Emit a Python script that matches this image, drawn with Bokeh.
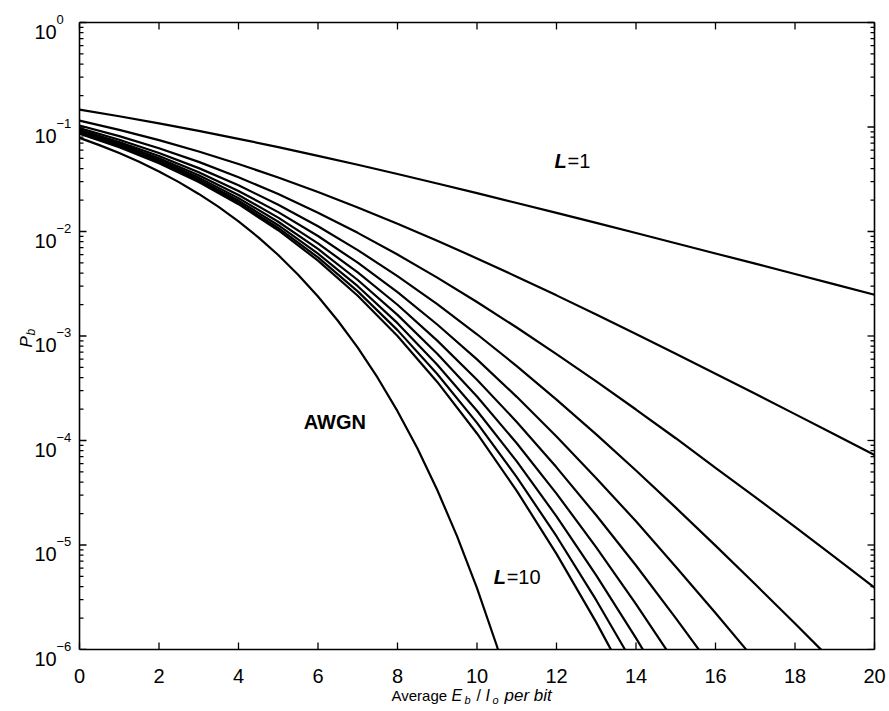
import math

from bokeh.embed import file_html
from bokeh.models import Label, Range1d
from bokeh.plotting import figure
from bokeh.resources import INLINE

# Average Eb/Io per bit (dB) at which the diversity curves are sampled
snr_db = list(range(21))

# BPSK over an AWGN channel (sampled every 0.5 dB)
snr_awgn_db = [0, 0.5, 1, 1.5, 2, 2.5, 3, 3.5, 4, 4.5, 5, 5.5, 6, 6.5, 7, 7.5,
               8, 8.5, 9, 9.5, 10, 10.5, 11]
pb_awgn = [7.865e-2, 6.71e-2, 5.628e-2, 4.64e-2, 3.751e-2, 2.97e-2, 2.288e-2,
           1.72e-2, 1.250e-2, 8.79e-3, 5.954e-3, 3.86e-3, 2.388e-3, 1.40e-3,
           7.727e-4, 3.99e-4, 1.909e-4, 8.42e-5, 3.363e-5, 1.21e-5, 3.872e-6,
           1.08e-6, 2.613e-7]

# Rayleigh fading with L-path diversity (bit energy shared over the L paths)
pb_L1 = [0.1464, 0.1267, 0.1085, 0.0919, 0.0771, 0.0642, 0.0530, 0.0435,
         0.0355, 0.0288, 0.0233, 0.01875, 0.01507, 0.01208, 0.00967, 0.00772,
         0.00616, 0.00492, 0.00392, 0.00312, 0.00248]
pb_L2 = [0.1151, 0.09387, 0.07481, 0.05822, 0.04424, 0.03286, 0.02387,
         0.01699, 0.01187, 0.008161, 0.005528, 0.003698, 0.002448, 0.001606,
         0.001046, 6.771e-4, 4.360e-4, 2.797e-4, 1.788e-4, 1.140e-4, 7.257e-5]
pb_L3 = [0.1035, 0.08183, 0.06266, 0.04636, 0.03311, 0.02280, 0.01514,
         0.009708, 0.006020, 0.003618, 0.002114, 0.001205, 6.717e-4,
         3.675e-4, 1.979e-4, 1.051e-4, 5.468e-5, 2.876e-5, 1.487e-5,
         7.637e-6, 3.904e-6]
pb_L4 = [0.09751, 0.07561, 0.05644, 0.04041, 0.02765, 0.01805, 0.01122,
         0.006637, 0.003742, 0.002015, 0.001039, 5.149e-4, 2.463e-4,
         1.143e-4, 5.161e-5, 2.278e-5, 9.869e-6, 4.207e-6, 1.770e-6,
         7.365e-7, 3.039e-7]
pb_L5 = [0.09383, 0.07183, 0.05268, 0.03684, 0.02445, 0.01533, 0.009053,
         0.005028, 0.002624, 0.001288, 5.968e-4, 2.617e-4, 1.092e-4,
         4.357e-5, 1.687e-5, 6.201e-6, 2.234e-6, 7.862e-7, 2.710e-7]
pb_L6 = [0.09136, 0.06928, 0.05016, 0.03447, 0.02234, 0.01358, 0.007705,
         0.004065, 0.001990, 9.037e-4, 3.814e-4, 1.506e-4, 5.536e-5,
         1.924e-5, 6.362e-6, 1.998e-6, 6.044e-7]
pb_L7 = [0.08958, 0.06720, 0.04836, 0.03278, 0.02086, 0.01240, 0.006806,
         0.003435, 0.001593, 6.766e-4, 2.633e-4, 9.411e-5, 3.103e-5,
         9.508e-6, 2.722e-6, 7.335e-7]
pb_L8 = [0.08823, 0.06607, 0.04694, 0.03153, 0.01977, 0.01149, 0.006139,
         0.002997, 0.001327, 5.317e-4, 1.926e-4, 6.314e-5, 1.880e-5,
         5.121e-6, 1.285e-6, 2.993e-7]
pb_L9 = [0.08718, 0.06499, 0.04595, 0.03055, 0.01892, 0.01081, 0.005649,
         0.002673, 0.001138, 4.334e-4, 1.473e-4, 4.467e-5, 1.213e-5,
         2.963e-6, 6.569e-7]
pb_L10 = [0.08634, 0.06413, 0.04510, 0.02977, 0.01825, 0.01028, 0.005269,
          0.002429, 9.987e-4, 3.636e-4, 1.167e-4, 3.299e-5, 8.223e-6,
          1.817e-6, 3.587e-7]

x_ticks = [0, 2, 4, 6, 8, 10, 12, 14, 16, 18, 20]
x_tick_labels = ["0", "2", "4", "6", "8", "10", "12", "14", "16", "18", "20"]
y_decades = [0, -1, -2, -3, -4, -5, -6]
y_tick_exponents = ["0", "\u22121", "\u22122", "\u22123", "\u22124", "\u22125",
                    "\u22126"]

FONT = "Liberation Sans"
W, H = 889, 711
# axes box inside the canvas (pixels) and its data limits
BOX_L, BOX_R, BOX_T, BOX_B = 79, 874, 22, 649
X0, X1 = 0.0, 20.0
LY0, LY1 = -6.0, 0.0  # log10 of the y limits


def px_x(px):
    return X0 + (px - BOX_L) / (BOX_R - BOX_L) * (X1 - X0)


def px_y(py):
    return 10 ** (LY1 - (py - BOX_T) / (BOX_B - BOX_T) * (LY1 - LY0))


def y_px(y):
    return BOX_T + (LY1 - math.log10(y)) / (LY1 - LY0) * (BOX_B - BOX_T)


def x_px(x):
    return BOX_L + (x - X0) / (X1 - X0) * (BOX_R - BOX_L)


# the plotting frame covers the whole canvas; the axes box is drawn inside it
p = figure(width=W, height=H, x_range=Range1d(px_x(0), px_x(W)),
           y_range=Range1d(px_y(H), px_y(0)), y_axis_type="log",
           x_axis_location=None, y_axis_location=None,
           output_backend="svg", toolbar_location=None,
           min_border=0, min_border_left=0, min_border_right=0,
           min_border_top=0, min_border_bottom=0)
p.xgrid.visible = False
p.ygrid.visible = False
p.outline_line_color = None

y_bottom, y_top = 10 ** LY0, 10 ** LY1

# inward ticks on all four sides of the box, as thin filled bars
MAJOR, MINOR, HALF = 7, 4, 0.65
ql, qr, qb, qt = [], [], [], []
for xt in x_ticks:
    cx = x_px(xt)
    for y_from, y_to in ((BOX_B, BOX_B - MAJOR), (BOX_T, BOX_T + MAJOR)):
        ql.append(px_x(cx - HALF))
        qr.append(px_x(cx + HALF))
        qb.append(px_y(max(y_from, y_to)))
        qt.append(px_y(min(y_from, y_to)))
for e in y_decades:
    for m in range(1, 10):
        if e == LY1 and m > 1:
            break
        cy = y_px(m * 10.0 ** e)
        ln = MAJOR if m == 1 else MINOR
        for x_from, x_to in ((BOX_L, BOX_L + ln), (BOX_R - ln, BOX_R)):
            ql.append(px_x(x_from))
            qr.append(px_x(x_to))
            qb.append(px_y(cy + HALF))
            qt.append(px_y(cy - HALF))
p.quad(left=ql, right=qr, bottom=qb, top=qt, fill_color="black",
       line_color=None)

# curves
p.line(snr_awgn_db, pb_awgn, line_color="black", line_width=2.2)
for series in (pb_L1, pb_L2, pb_L3, pb_L4, pb_L5, pb_L6, pb_L7, pb_L8,
               pb_L9, pb_L10):
    p.line(snr_db[:len(series)], series, line_color="black", line_width=2.2)

# keep the curves inside the box: blank the strip under the bottom axis
p.quad(left=px_x(0), right=px_x(W), bottom=px_y(H), top=y_bottom,
       fill_color="white", line_color=None)

# box
p.multi_line(xs=[[X0, X1], [X0, X1], [X0, X0], [X1, X1]],
             ys=[[y_bottom, y_bottom], [y_top, y_top], [y_bottom, y_top],
                 [y_bottom, y_top]],
             line_color="black", line_width=1.6)


def txt(x, y, text, size, style="normal", angle=0.0, baseline="alphabetic",
        align="left", x_offset=0):
    p.add_layout(Label(x=x, y=y, text=text, text_font=FONT, text_font_size=size,
                       text_font_style=style, text_color="black",
                       text_align=align, text_baseline=baseline, angle=angle,
                       x_offset=x_offset))


# tick labels
for xt, lab in zip(x_ticks, x_tick_labels):
    txt(xt, px_y(BOX_B + 26), lab, "20px", align="center")
for e, expo in zip(y_decades, y_tick_exponents):
    ty_px = y_px(10.0 ** e)
    txt(px_x(34), px_y(ty_px + 9), "10", "20px")
    txt(px_x(56), px_y(ty_px - 3.5), expo, "13px")

# curve annotations
txt(5.64, 1.5e-4, "AWGN", "20px", "bold", baseline="middle")
txt(10.42, 4.9e-6, "L", "20px", "bold italic", baseline="middle")
txt(10.42, 4.9e-6, "=10", "20px", baseline="middle", x_offset=13)
txt(11.95, 0.047, "L", "20px", "bold italic", baseline="middle")
txt(11.95, 0.047, "=1", "20px", baseline="middle", x_offset=13)

# x axis title: Average E_b / I_o per bit
base = 695
txt(px_x(391), px_y(base), "Average", "15px")
txt(px_x(451), px_y(base), "E", "16px", "italic")
txt(px_x(464), px_y(base + 4), "b", "11px", "italic")
txt(px_x(476), px_y(base), "/", "16px")
txt(px_x(485), px_y(base), "I", "16px", "italic")
txt(px_x(492), px_y(base + 4), "o", "11px", "italic")
txt(px_x(504), px_y(base), "per bit", "17px", "italic")

# y axis title: P_b, reading upwards
txt(px_x(26), px_y(347), "P", "17px", "italic", angle=math.pi / 2)
txt(px_x(30), px_y(335), "b", "12px", "italic", angle=math.pi / 2)

open("out.html", "w").write(file_html(p, INLINE))
